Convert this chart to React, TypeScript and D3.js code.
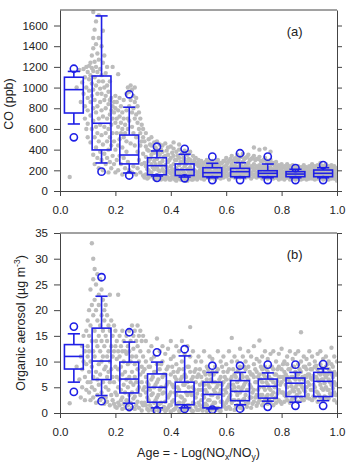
import React, { useEffect, useRef } from 'react';
import * as d3 from 'd3';

// bin centres on the age axis
const binAges = [0.05, 0.15, 0.25, 0.35, 0.45, 0.55, 0.65, 0.75, 0.85, 0.95];

// CO (ppb) percentiles per bin
const coP5 = [519, 187, 150, 127, 123, 106, 106, 106, 106, 106];
const coP10 = [648, 271, 174, 145, 135, 128, 128, 128, 128, 128];
const coQ1 = [754, 397, 262, 157, 150, 138, 138, 138, 138, 138];
const coMed = [980, 655, 348, 245, 206, 177, 187, 171, 164, 171];
const coQ3 = [1100, 1112, 541, 322, 262, 225, 219, 196, 187, 203];
const coP90 = [1156, 1693, 810, 387, 355, 268, 274, 261, 210, 225];
const coP95 = [1182, 1880, 935, 428, 408, 332, 365, 332, 222, 251];

// organic aerosol (ug m-3) percentiles per bin
const oaP5 = [4.1, 2.3, 1.2, 0.5, 0.8, 0.65, 0.85, 1.2, 1.4, 1.4];
const oaP10 = [6.0, 3.4, 1.9, 1.0, 1.0, 0.8, 1.6, 2.3, 2.1, 2.4];
const oaQ1 = [8.55, 6.5, 3.9, 2.1, 1.6, 1.0, 2.4, 2.9, 3.2, 3.2];
const oaMed = [11.0, 10.1, 6.6, 5.0, 4.1, 3.6, 4.2, 5.2, 5.8, 6.15];
const oaQ3 = [13.3, 16.5, 9.9, 7.6, 6.0, 6.0, 6.3, 6.6, 6.8, 7.9];
const oaP90 = [15.4, 22.7, 13.8, 9.9, 11.1, 7.9, 7.9, 7.8, 7.9, 8.6];
const oaP95 = [16.8, 26.4, 15.7, 11.8, 12.4, 9.2, 9.2, 9.4, 9.4, 9.5];

const ageTicks = [0, 0.2, 0.4, 0.6, 0.8, 1.0];
const coTicks = [0, 200, 400, 600, 800, 1000, 1200, 1400, 1600];
const oaTicks = [0, 5, 10, 15, 20, 25, 30, 35];

// individual samples: [age, values at that age]
const coCloud: [number, number[]][] = [
  [0.035, [135]], [0.06, [1000]], [0.07, [1170]], [0.075, [860]], [0.08, [1050]],
  [0.085, [1180, 940]], [0.09, [1100, 820, 700]], [0.095, [1200, 1000, 600]],
  [0.1, [1150, 900, 780, 650, 520]],
  [0.105, [1210, 1080, 970]], [0.11, [1240, 1120, 860, 730, 470]],
  [0.115, [1310, 1190, 1040, 920, 600]], [0.12, [1730, 1480, 1380, 1160, 980, 800, 680, 350]],
  [0.125, [1560, 1250, 1100, 880, 520, 260]], [0.13, [1640, 1420, 1200, 1020, 760, 620, 420]],
  [0.135, [1330, 1150, 940, 820, 560, 320]], [0.14, [1700, 1480, 1270, 1060, 700, 480, 220]],
  [0.145, [1180, 990, 860, 640, 380]], [0.15, [1400, 1120, 940, 780, 540, 300]],
  [0.155, [1550, 1240, 1060, 720, 450, 200]], [0.16, [1310, 1000, 880, 620, 360]],
  [0.165, [1140, 920, 800, 560, 260]], [0.17, [1200, 1020, 700, 480, 320]],
  [0.175, [960, 840, 600, 400, 180]], [0.18, [1060, 880, 740, 520, 280]],
  [0.185, [900, 780, 640, 440, 220]], [0.19, [1200, 820, 700, 560, 340]],
  [0.195, [860, 760, 480, 260]], [0.2, [920, 800, 660, 400, 180]],
  [0.205, [860, 700, 560, 300]], [0.21, [1130, 780, 620, 440, 200]],
  [0.215, [900, 720, 500, 340]], [0.22, [820, 660, 560, 260]],
  [0.225, [760, 600, 420, 160]], [0.23, [880, 700, 520, 320]],
  [0.235, [640, 560, 220]], [0.24, [940, 780, 480, 380]],
  [0.245, [1000, 700, 600, 280]], [0.25, [960, 820, 680, 200]],
  [0.255, [1020, 880, 460]], [0.26, [980, 760, 620, 180]],
  [0.265, [920, 800, 560, 240]], [0.27, [1000, 860, 700, 440]],
  [0.275, [900, 740, 520, 160]], [0.28, [820, 660, 380, 220]],
  [0.285, [760, 600, 300]], [0.29, [700, 560, 440, 180]],
  [0.295, [640, 480, 260]], [0.3, [600, 520, 360, 150]],
  [0.305, [480, 270, 130]], [0.31, [560, 430, 330, 240, 160]],
  [0.315, [400, 210, 120]], [0.32, [500, 390, 290, 200, 130]],
  [0.325, [450, 310, 160]], [0.33, [520, 440, 350, 260, 180]],
  [0.335, [380, 230, 140]], [0.34, [470, 370, 290, 210, 120]],
  [0.345, [420, 260, 110]], [0.35, [480, 400, 310, 230, 150]],
  [0.355, [360, 200, 130]], [0.36, [450, 350, 270, 190, 120]],
  [0.365, [400, 250, 110]], [0.37, [440, 380, 290, 210, 140]],
  [0.375, [330, 190, 120]], [0.38, [460, 340, 250, 170, 110]],
  [0.385, [390, 230, 140]], [0.39, [420, 350, 280, 200, 130]],
  [0.395, [300, 180, 110]], [0.4, [430, 320, 240, 170, 110]],
  [0.405, [370, 210, 140]], [0.41, [470, 410, 340, 260, 190, 130]],
  [0.415, [300, 170, 110]], [0.42, [380, 300, 220, 150, 100]],
  [0.425, [340, 200, 130]], [0.43, [450, 400, 320, 250, 180, 120]],
  [0.435, [280, 160, 110]], [0.44, [360, 280, 210, 150, 110]],
  [0.445, [320, 190, 130]], [0.45, [390, 310, 240, 170, 120]],
  [0.455, [260, 150, 100]], [0.46, [350, 280, 210, 150, 100]],
  [0.465, [310, 190, 130]], [0.47, [380, 300, 230, 160, 120]],
  [0.475, [270, 170, 110]], [0.48, [340, 270, 200, 140, 110]],
  [0.485, [300, 200, 130]], [0.49, [320, 260, 190, 130]],
  [0.495, [270, 160, 110]], [0.5, [300, 240, 180, 130]],
  [0.505, [260, 200, 140]], [0.51, [290, 230, 170, 120]],
  [0.515, [250, 190, 140]], [0.52, [270, 210, 160, 110]],
  [0.525, [280, 200, 140]], [0.53, [300, 240, 180, 130]],
  [0.535, [250, 200, 150]], [0.54, [280, 220, 160, 120]],
  [0.545, [260, 190, 140]], [0.55, [290, 230, 170, 130]],
  [0.555, [240, 180, 130]], [0.56, [260, 200, 150, 110]],
  [0.565, [280, 210, 150]], [0.57, [300, 240, 180, 130]],
  [0.575, [250, 190, 140]], [0.58, [270, 210, 160, 120]],
  [0.585, [270, 200, 150]], [0.59, [290, 230, 170, 130]],
  [0.595, [290, 210, 160]], [0.6, [320, 250, 190, 140]],
  [0.605, [270, 210, 150]], [0.61, [290, 220, 160, 110]],
  [0.615, [310, 230, 170]], [0.62, [340, 260, 200, 140]],
  [0.625, [290, 220, 160]], [0.63, [310, 240, 180, 130]],
  [0.635, [320, 240, 170]], [0.64, [350, 280, 210, 150]],
  [0.645, [300, 230, 170]], [0.65, [330, 250, 190, 130]],
  [0.655, [330, 240, 170]], [0.66, [360, 280, 210, 150]],
  [0.665, [310, 230, 170]], [0.67, [320, 250, 190, 130]],
  [0.675, [330, 240, 170]], [0.68, [350, 270, 200, 140]],
  [0.685, [300, 220, 160]], [0.69, [310, 240, 180, 120]],
  [0.695, [320, 230, 160]], [0.7, [420, 340, 260, 200, 140]],
  [0.705, [300, 220, 160]], [0.71, [310, 240, 180, 130]],
  [0.715, [310, 220, 160]], [0.72, [400, 330, 250, 190, 140]],
  [0.725, [290, 210, 160]], [0.73, [290, 230, 170, 120]],
  [0.735, [300, 220, 150]], [0.74, [410, 320, 240, 180, 130]],
  [0.745, [280, 200, 150]], [0.75, [290, 220, 170, 120]],
  [0.755, [270, 200, 150]], [0.76, [380, 300, 230, 170, 130]],
  [0.765, [260, 190, 140]], [0.77, [270, 210, 160, 120]],
  [0.775, [250, 190, 140]], [0.78, [280, 220, 170, 130]],
  [0.785, [240, 180, 130]], [0.79, [250, 200, 150, 110]],
  [0.795, [230, 180, 130]], [0.8, [260, 200, 160, 120]],
  [0.805, [230, 170, 130]], [0.81, [240, 190, 150, 110]],
  [0.815, [220, 170, 130]], [0.82, [260, 210, 160, 130]],
  [0.825, [230, 180, 140]], [0.83, [240, 190, 150, 110]],
  [0.835, [220, 170, 130]], [0.84, [250, 200, 160, 120]],
  [0.845, [220, 170, 130]], [0.85, [230, 180, 140, 110]],
  [0.855, [210, 160, 130]], [0.86, [240, 190, 150, 120]],
  [0.865, [220, 170, 130]], [0.87, [230, 180, 140, 110]],
  [0.875, [210, 160, 120]], [0.88, [250, 200, 160, 120]],
  [0.885, [220, 170, 130]], [0.89, [230, 180, 140, 110]],
  [0.895, [210, 160, 120]], [0.9, [240, 190, 150, 120]],
  [0.905, [220, 170, 130]], [0.91, [260, 210, 160, 120]],
  [0.915, [230, 180, 140]], [0.92, [240, 190, 150, 110]],
  [0.925, [220, 170, 130]], [0.93, [250, 200, 160, 120]],
  [0.935, [230, 180, 140]], [0.94, [270, 220, 170, 130]],
  [0.945, [240, 190, 140]], [0.95, [240, 190, 150, 110]],
  [0.955, [220, 170, 130]], [0.96, [260, 210, 160, 120]],
  [0.965, [230, 180, 140]], [0.97, [240, 190, 150, 110]],
  [0.975, [220, 170, 130]], [0.98, [250, 200, 160, 120]],
  [0.985, [230, 180, 140]], [0.99, [240, 190, 150, 120]],
  [0.995, [210, 160, 120]], [1.0, [220, 170, 130, 100]],
];

const oaCloud: [number, number[]][] = [
  [0.035, [1.9]], [0.06, [9]], [0.07, [6.5]], [0.075, [11, 3]], [0.08, [13, 8.5, 5]],
  [0.085, [15, 10]], [0.09, [12, 7, 2.5]], [0.095, [16, 9.5, 4.5]], [0.1, [18, 13, 11, 6]],
  [0.105, [20, 15, 12, 8, 4]], [0.11, [24, 17, 10, 6, 2.5]], [0.115, [33, 21, 14, 9, 5]],
  [0.12, [30, 26, 19, 12, 7, 3]], [0.125, [28, 22, 16, 11, 4.5]], [0.13, [25, 20, 14, 8, 2]],
  [0.135, [27, 18, 13, 6.5, 3.5]], [0.14, [23, 21, 15, 9.5, 5.5]], [0.145, [26, 17, 12, 7.5, 2.5]],
  [0.15, [24, 19, 14, 10, 4]], [0.155, [22, 16, 11, 6, 3]], [0.16, [20, 18, 13, 8.5, 1.8]],
  [0.165, [21, 15, 9, 5, 3]], [0.17, [19, 14, 11, 7, 2.2]], [0.175, [17, 12, 8, 4.5]],
  [0.18, [23, 16, 10, 6, 1.5]], [0.185, [18, 13, 8.5, 3.5]], [0.19, [15, 11, 7, 2.5]],
  [0.195, [17, 12, 6, 1.8]], [0.2, [16, 13, 9, 4, 1.2]],
  [0.205, [14, 10.5, 7, 3.5, 1]], [0.21, [23, 12, 8.5, 5, 2]], [0.215, [15, 11, 6.5, 1.5]],
  [0.22, [13, 9, 4.5, 2.5]], [0.225, [16, 12, 7.5, 3, 0.8]], [0.23, [14, 10, 5.5, 1.8]],
  [0.235, [12, 8, 4, 1]], [0.24, [15, 11.5, 6.5, 2.5]], [0.245, [13, 9.5, 5, 1.5]],
  [0.25, [16, 12, 7, 3.5, 0.6]], [0.255, [14, 10, 6, 2]], [0.26, [17, 11, 8, 4, 1]],
  [0.265, [15, 12.5, 5.5, 2.8]], [0.27, [16, 9.5, 7, 3.2, 0.8]], [0.275, [14, 11, 6, 1.5]],
  [0.28, [17, 13, 8.5, 4.5, 2.2]], [0.285, [15, 10, 5, 1]], [0.29, [16, 12, 7.5, 3.5]],
  [0.295, [14, 9, 6, 2, 0.5]], [0.3, [15, 11, 8, 4.5, 1.5]],
  [0.305, [8.5, 5, 2]], [0.31, [14, 10, 7, 4, 1.5]], [0.315, [6, 3, 0.8]],
  [0.32, [12, 9, 5.5, 2.5, 0.5]], [0.325, [9, 4.5, 1.5]], [0.33, [13, 10.5, 6.5, 3.5, 1]],
  [0.335, [7, 3.8, 0.6]], [0.34, [11, 8, 5, 2, 0.4]], [0.345, [8, 5.5, 2.5]],
  [0.35, [14.5, 9.5, 6, 3, 1.2]], [0.355, [6.5, 3.5, 0.5]], [0.36, [12, 8.5, 4.5, 1.8]],
  [0.365, [9.5, 5, 2]], [0.37, [13, 10, 7, 3.8, 0.8]], [0.375, [7.5, 4, 1.2]],
  [0.38, [11.5, 7.5, 5, 2.2, 0.4]], [0.385, [8.5, 5.5, 0.6]], [0.39, [12.5, 9, 6, 3, 1]],
  [0.395, [6, 3.5, 1.5]], [0.4, [14, 10.5, 7.5, 4, 1.5, 0.3]], [0.405, [9, 5.5, 2.2]],
  [0.41, [11, 8, 5, 2.5, 0.6]], [0.415, [7, 4, 0.8]], [0.42, [13, 9.5, 6.5, 3.5, 1.2]],
  [0.425, [8, 5, 1.8]], [0.43, [12, 8.5, 4.5, 2, 0.4]], [0.435, [6.5, 3.2, 0.5]],
  [0.44, [14, 10, 7, 3, 1]], [0.445, [8.5, 5.5, 2]], [0.45, [11.5, 7.5, 5.5, 2.5, 0.5]],
  [0.455, [7, 4, 0.8]], [0.46, [13, 9, 6, 3.5, 1.5]], [0.465, [9, 5, 1.5]],
  [0.47, [16.7, 11, 8, 4, 1]], [0.475, [6.5, 3.5, 0.5]], [0.48, [12, 7, 5, 2, 0.4]],
  [0.485, [8, 4.5, 1.8]], [0.49, [10, 8.5, 6, 3, 1.2]], [0.495, [7, 3.8, 0.6]],
  [0.5, [11, 7.5, 4.5, 2, 0.6]], [0.505, [8.5, 5.5, 1.5]],
  [0.51, [10, 7, 4.5, 2.5, 0.8]], [0.515, [6, 3.5, 0.5]], [0.52, [12, 8, 5.5, 3, 1.2]],
  [0.525, [7.5, 4.5, 1.8]], [0.53, [9, 6.5, 4, 1.5, 0.4]], [0.535, [8.5, 5.5, 2.5]],
  [0.54, [11, 7.5, 5, 2.5, 1]], [0.545, [6.5, 3.5, 0.6]], [0.55, [10.5, 8, 6, 3.5, 1.5]],
  [0.555, [7.5, 4.5, 2]], [0.56, [9, 6, 4, 2, 0.6]], [0.565, [8, 5, 1]],
  [0.57, [12, 8.5, 5.5, 3, 1]], [0.575, [6.5, 3.8, 0.5]], [0.58, [10, 7, 4.5, 2.2, 0.4]],
  [0.585, [9, 5.5, 2.2]], [0.59, [11, 8, 6, 3.5, 1.5]], [0.595, [7, 4.5, 1.2]],
  [0.6, [9.5, 6.5, 4, 2, 0.8]], [0.605, [8, 5, 2.5]], [0.61, [12, 8.5, 5.5, 3, 1.2]],
  [0.615, [6.5, 3.5, 0.8]], [0.62, [14.6, 10, 7, 4.5, 2]], [0.625, [8.5, 5.5, 2.5]],
  [0.63, [11, 7.5, 5, 2.5, 0.6]], [0.635, [7, 4.2, 1.2]], [0.64, [10, 8, 6, 3.5, 1.5]],
  [0.645, [8.5, 5, 2.5]], [0.65, [12.5, 9, 6.5, 4, 1]], [0.655, [7.5, 4.5, 1.5]],
  [0.66, [11, 7, 5, 2.5, 0.8]], [0.665, [9, 5.5, 2.8]], [0.67, [10, 8.5, 6, 3.5, 1.8]],
  [0.675, [7, 4.5, 1.2]], [0.68, [12, 9, 6.5, 4.5, 2]], [0.685, [8, 5.5, 3]],
  [0.69, [11, 7.5, 5, 3, 1]], [0.695, [7.5, 4, 1.8]], [0.7, [13, 9.5, 7, 4.5, 2.2]],
  [0.705, [8.5, 6, 3]], [0.71, [10.5, 8, 6, 3.5, 1.4]], [0.715, [7, 4.5, 2]],
  [0.72, [14.1, 10, 7.5, 5, 2.5]], [0.725, [9, 6.5, 3.5]], [0.73, [11, 8.5, 6, 3.5, 1.5]],
  [0.735, [7.5, 5, 2.2]], [0.74, [12, 9, 7, 4.5, 2.5]], [0.745, [8.5, 6, 3.2]],
  [0.75, [10.5, 8, 5.5, 3.5, 1.8]], [0.755, [7, 4.8, 2.5]], [0.76, [11.5, 9, 6.5, 4.5, 2.2]],
  [0.765, [9, 6.5, 3.5]], [0.77, [12, 8.5, 6, 4, 1.5]], [0.775, [7.5, 5, 2.8]],
  [0.78, [10, 7.5, 5.5, 3, 2]], [0.785, [8.5, 6.2, 3.8]], [0.79, [11.5, 9, 7, 4.5, 2.5]],
  [0.795, [7, 5.5, 2.2]], [0.8, [12.5, 8.5, 6, 4, 1.8]], [0.805, [9.5, 7, 4]],
  [0.81, [10, 8, 6.5, 3.5, 2.2]], [0.815, [7.5, 5.5, 3.2]], [0.82, [11, 9.5, 7, 5, 2.5]],
  [0.825, [8.5, 6.5, 3.8]], [0.83, [12, 8.5, 6, 4, 2]], [0.835, [7, 5.2, 2.5]],
  [0.84, [10.5, 9, 7, 4.5, 2.8]], [0.845, [9, 6.8, 4.2]], [0.85, [11.5, 8, 6.5, 5, 3]],
  [0.855, [7.5, 5.5, 3.5]], [0.86, [12, 9.5, 7.5, 4.5, 2.2]], [0.865, [8.5, 6.5, 4]],
  [0.87, [15.7, 10, 8, 5.5, 3]], [0.875, [7, 5, 2.5]], [0.88, [11, 9, 6.5, 4.5, 2.5]],
  [0.885, [9, 7.2, 4.2]], [0.89, [10.5, 8.5, 7, 5, 3]], [0.895, [7.5, 6, 3.5]],
  [0.9, [12, 9.5, 7.5, 5.5, 2.8]], [0.905, [8.5, 6.8, 4.5]], [0.91, [11, 8.5, 6.5, 4.5, 2.5]],
  [0.915, [7.2, 5.5, 3.2]], [0.92, [10, 9, 7, 5, 3]], [0.925, [9.2, 7, 4.2]],
  [0.93, [11.5, 8.5, 6.5, 4, 2.2]], [0.935, [7.8, 6.2, 3.5]], [0.94, [12, 9.5, 7.5, 5.5, 3]],
  [0.945, [8.8, 6.5, 4.8]], [0.95, [10.5, 8, 6.5, 4.5, 2.5]], [0.955, [7.5, 5.8, 3.2]],
  [0.96, [11, 9, 7, 5, 3]], [0.965, [9.5, 7.5, 4.5]], [0.97, [10, 8.5, 6.5, 4.5, 2.8]],
  [0.975, [8, 6, 3.8]], [0.98, [12.7, 9.5, 7.5, 5.5, 3.5]], [0.985, [9, 7, 4.8]],
  [0.99, [11, 8, 6, 4, 2.5]], [0.995, [7.5, 5.5, 3.5]], [1.0, [10, 7.5, 5.5, 3.5, 2]],
];

const BLUE = '#1f1fe6';
const GREY = '#bcbcbc';
const AXIS = '#444';
const FONT = '"Liberation Sans", Arial, sans-serif';
const LEFT = 60;
const RIGHT = 337;

function drawPanel(svg, { id, top, bottom, yMax, yTicks, cloud, stats, tag }) {
  const x = d3.scaleLinear().domain([0, 1]).range([LEFT, RIGHT]);
  const y = d3.scaleLinear().domain([0, yMax]).range([bottom, top]);

  svg.append('clipPath').attr('id', id)
    .append('rect')
    .attr('x', LEFT).attr('y', top)
    .attr('width', RIGHT - LEFT).attr('height', bottom - top);

  // scatter of all samples
  const pts = cloud.flatMap(([a, vs]) => vs.map(v => [a, v]));
  svg.append('g')
    .attr('clip-path', `url(#${id})`)
    .selectAll('circle')
    .data(pts)
    .join('circle')
    .attr('cx', d => x(d[0]))
    .attr('cy', d => y(d[1]))
    .attr('r', 2.2)
    .attr('fill', GREY);

  // box and whisker per age bin
  const boxes = binAges.map((a, i) => ({
    a,
    p5: stats.p5[i], p10: stats.p10[i], q1: stats.q1[i], med: stats.med[i],
    q3: stats.q3[i], p90: stats.p90[i], p95: stats.p95[i],
  }));
  const half = x(0.034) - x(0);
  const cap = x(0.022) - x(0);

  const g = svg.append('g')
    .attr('clip-path', `url(#${id})`)
    .attr('fill', 'none')
    .attr('stroke', BLUE)
    .attr('stroke-width', 1.6);

  const b = g.selectAll('g').data(boxes).join('g');
  b.append('rect')
    .attr('x', d => x(d.a) - half)
    .attr('y', d => y(d.q3))
    .attr('width', half * 2)
    .attr('height', d => y(d.q1) - y(d.q3));
  b.append('line')
    .attr('x1', d => x(d.a) - half).attr('x2', d => x(d.a) + half)
    .attr('y1', d => y(d.med)).attr('y2', d => y(d.med));
  // whiskers
  b.append('line')
    .attr('x1', d => x(d.a)).attr('x2', d => x(d.a))
    .attr('y1', d => y(d.q3)).attr('y2', d => y(d.p90));
  b.append('line')
    .attr('x1', d => x(d.a)).attr('x2', d => x(d.a))
    .attr('y1', d => y(d.q1)).attr('y2', d => y(d.p10));
  b.append('line')
    .attr('x1', d => x(d.a) - cap).attr('x2', d => x(d.a) + cap)
    .attr('y1', d => y(d.p90)).attr('y2', d => y(d.p90));
  b.append('line')
    .attr('x1', d => x(d.a) - cap).attr('x2', d => x(d.a) + cap)
    .attr('y1', d => y(d.p10)).attr('y2', d => y(d.p10));
  // 5th / 95th percentile circles
  b.append('circle')
    .attr('cx', d => x(d.a)).attr('cy', d => y(d.p95)).attr('r', 3.6);
  b.append('circle')
    .attr('cx', d => x(d.a)).attr('cy', d => y(d.p5)).attr('r', 3.6);

  // axes
  const styleAxis = sel => {
    sel.attr('font-family', FONT).attr('font-size', 11.5);
    sel.selectAll('path, line').attr('stroke', AXIS);
    sel.selectAll('text').attr('fill', '#222');
  };

  svg.append('g')
    .attr('transform', `translate(${LEFT},0)`)
    .call(d3.axisLeft(y).tickValues(yTicks).tickSize(6).tickSizeOuter(0).tickPadding(6)
      .tickFormat(d3.format('d')))
    .call(styleAxis);

  svg.append('g')
    .attr('transform', `translate(${RIGHT},0)`)
    .call(d3.axisRight(y).tickValues(yTicks).tickSize(5).tickSizeOuter(0).tickFormat(() => ''))
    .call(styleAxis);

  svg.append('g')
    .attr('transform', `translate(0,${bottom})`)
    .call(d3.axisBottom(x).tickValues(ageTicks).tickSize(5).tickSizeOuter(0).tickPadding(10)
      .tickFormat(d3.format('.1f')))
    .call(styleAxis);

  svg.append('line')
    .attr('x1', LEFT).attr('x2', RIGHT)
    .attr('y1', top).attr('y2', top)
    .attr('stroke', AXIS);

  svg.append('text')
    .attr('x', 294.7)
    .attr('y', top + 26)
    .attr('text-anchor', 'middle')
    .attr('font-family', FONT)
    .attr('font-size', 13)
    .attr('fill', '#222')
    .text(tag);
}

function App() {
  const svgRef = useRef();

  useEffect(() => {
    const svg = d3.select(svgRef.current);
    svg.selectAll('*').remove();

    drawPanel(svg, {
      id: 'clip-co', top: 10, bottom: 191, yMax: 1750, yTicks: coTicks, cloud: coCloud, tag: '(a)',
      stats: { p5: coP5, p10: coP10, q1: coQ1, med: coMed, q3: coQ3, p90: coP90, p95: coP95 },
    });
    drawPanel(svg, {
      id: 'clip-oa', top: 233, bottom: 413, yMax: 35, yTicks: oaTicks, cloud: oaCloud, tag: '(b)',
      stats: { p5: oaP5, p10: oaP10, q1: oaQ1, med: oaMed, q3: oaQ3, p90: oaP90, p95: oaP95 },
    });

    // axis titles
    const title = svg.append('g')
      .attr('font-family', FONT)
      .attr('font-size', 12.5)
      .attr('fill', '#222');

    title.append('text')
      .attr('transform', 'translate(12.5,104) rotate(-90)')
      .attr('text-anchor', 'middle')
      .text('CO (ppb)');

    const oa = title.append('text')
      .attr('transform', 'translate(25,323) rotate(-90)')
      .attr('text-anchor', 'middle');
    oa.append('tspan').text('Organic aerosol (\u00b5g m');
    oa.append('tspan').attr('font-size', 8.5).attr('dy', -5).text('-3');
    oa.append('tspan').attr('dy', 5).text(')');

    const age = title.append('text')
      .attr('x', (LEFT + RIGHT) / 2)
      .attr('y', 457)
      .attr('text-anchor', 'middle');
    age.append('tspan').text('Age = - Log(NO');
    age.append('tspan').attr('font-size', 8.5).attr('dy', 3).text('x');
    age.append('tspan').attr('dy', -3).text('/NO');
    age.append('tspan').attr('font-size', 8.5).attr('dy', 3).text('y');
    age.append('tspan').attr('dy', -3).text(')');
  }, []);

  return (
    <svg ref={svgRef} width={347} height={463}
      style={{ position: 'absolute', left: 0, top: 0, background: '#fff' }} />
  );
}

export default App;
